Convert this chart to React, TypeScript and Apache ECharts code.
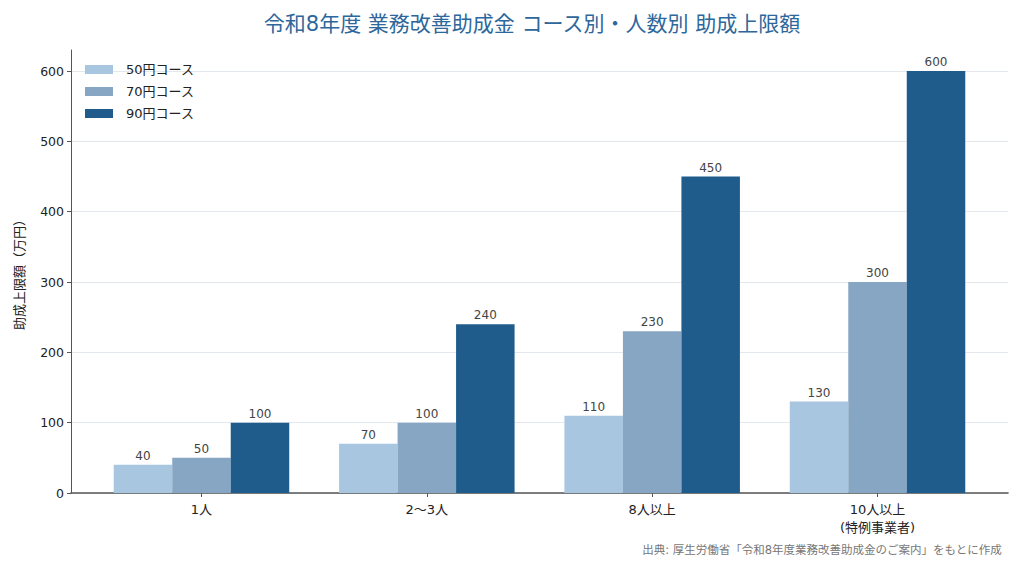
import React, { useEffect, useRef } from 'react';
import * as echarts from 'echarts';

// 人数区分
const categories = ['1人', '2〜3人', '8人以上', '10人以上\n(特例事業者)'];
const seriesNames = ['50円コース', '70円コース', '90円コース'];
const course50 = [40, 70, 110, 130];
const course70 = [50, 100, 230, 300];
const course90 = [100, 240, 450, 600];
const yTicks = [0, 100, 200, 300, 400, 500, 600];
const colors = ['#a9c6e1', '#86a6c3', '#1f5b8b'];

const FONT = '"DejaVu Sans", "Noto Sans CJK JP", sans-serif';

const App = () => {
    const chartRef = useRef(null);

    useEffect(() => {
        const chart = echarts.init(chartRef.current, null, { renderer: 'svg' });
        const values = [course50, course70, course90];

        const series = seriesNames.map((name, s) => ({
            name,
            type: 'bar',
            data: values[s].map((v, i) => [i, v]),
            barWidth: 58.5,
            barGap: '0%',
            itemStyle: { color: colors[s] },
            label: {
                show: true,
                position: 'top',
                distance: 3,
                color: '#444',
                fontSize: 12,
                fontFamily: FONT,
            },
        }));

        chart.setOption({
            animation: false,
            textStyle: { fontFamily: FONT },
            title: {
                text: '令和8年度 業務改善助成金 コース別・人数別 助成上限額',
                left: 527,
                top: 8,
                textAlign: 'center',
                textStyle: { color: '#2d679b', fontSize: 21, fontWeight: 'normal', fontFamily: FONT },
            },
            legend: {
                orient: 'vertical',
                left: 80,
                top: 58,
                icon: 'rect',
                itemWidth: 28,
                itemHeight: 9,
                itemGap: 9,
                textStyle: { color: '#222', fontSize: 13, lineHeight: 12, fontFamily: FONT, padding: [0, 0, 0, 8] },
                data: seriesNames,
            },
            grid: { left: 71, right: 16, top: 50, bottom: 80 },
            xAxis: {
                type: 'value',
                min: -0.579,
                max: 3.579,
                splitLine: { show: false },
                axisLine: { show: true, onZero: false, lineStyle: { color: '#555', width: 1.6 } },
                axisTick: { show: true, customValues: [0, 1, 2, 3], length: 4, lineStyle: { color: '#555' } },
                axisLabel: {
                    customValues: [0, 1, 2, 3],
                    formatter: (v: number) => categories[Math.round(v)],
                    color: '#222',
                    fontSize: 13,
                    lineHeight: 18,
                    margin: 7,
                    fontFamily: FONT,
                },
            },
            yAxis: {
                type: 'value',
                min: 0,
                max: 630,
                name: '助成上限額（万円）',
                nameLocation: 'middle',
                nameGap: 45,
                nameTextStyle: { color: '#222', fontSize: 13, fontFamily: FONT },
                axisLine: { show: true, onZero: false, lineStyle: { color: '#555', width: 1 } },
                axisTick: { show: true, customValues: yTicks, length: 4, lineStyle: { color: '#555' } },
                axisLabel: { customValues: yTicks, color: '#222', fontSize: 12.5, margin: 7, fontFamily: FONT },
                splitLine: { show: true, lineStyle: { color: '#e3e8ef', width: 1 } },
            },
            graphic: [
                {
                    type: 'text',
                    right: 22,
                    top: 544,
                    style: {
                        text: '出典: 厚生労働省「令和8年度業務改善助成金のご案内」をもとに作成',
                        fill: '#777',
                        fontSize: 11.5,
                        fontFamily: FONT,
                    },
                },
            ],
            series,
        });

        return () => {
            chart.dispose();
        };
    }, []);

    return <div ref={chartRef} style={{ width: '1024px', height: '573px', margin: '-8px' }}></div>;
};

export default App;
